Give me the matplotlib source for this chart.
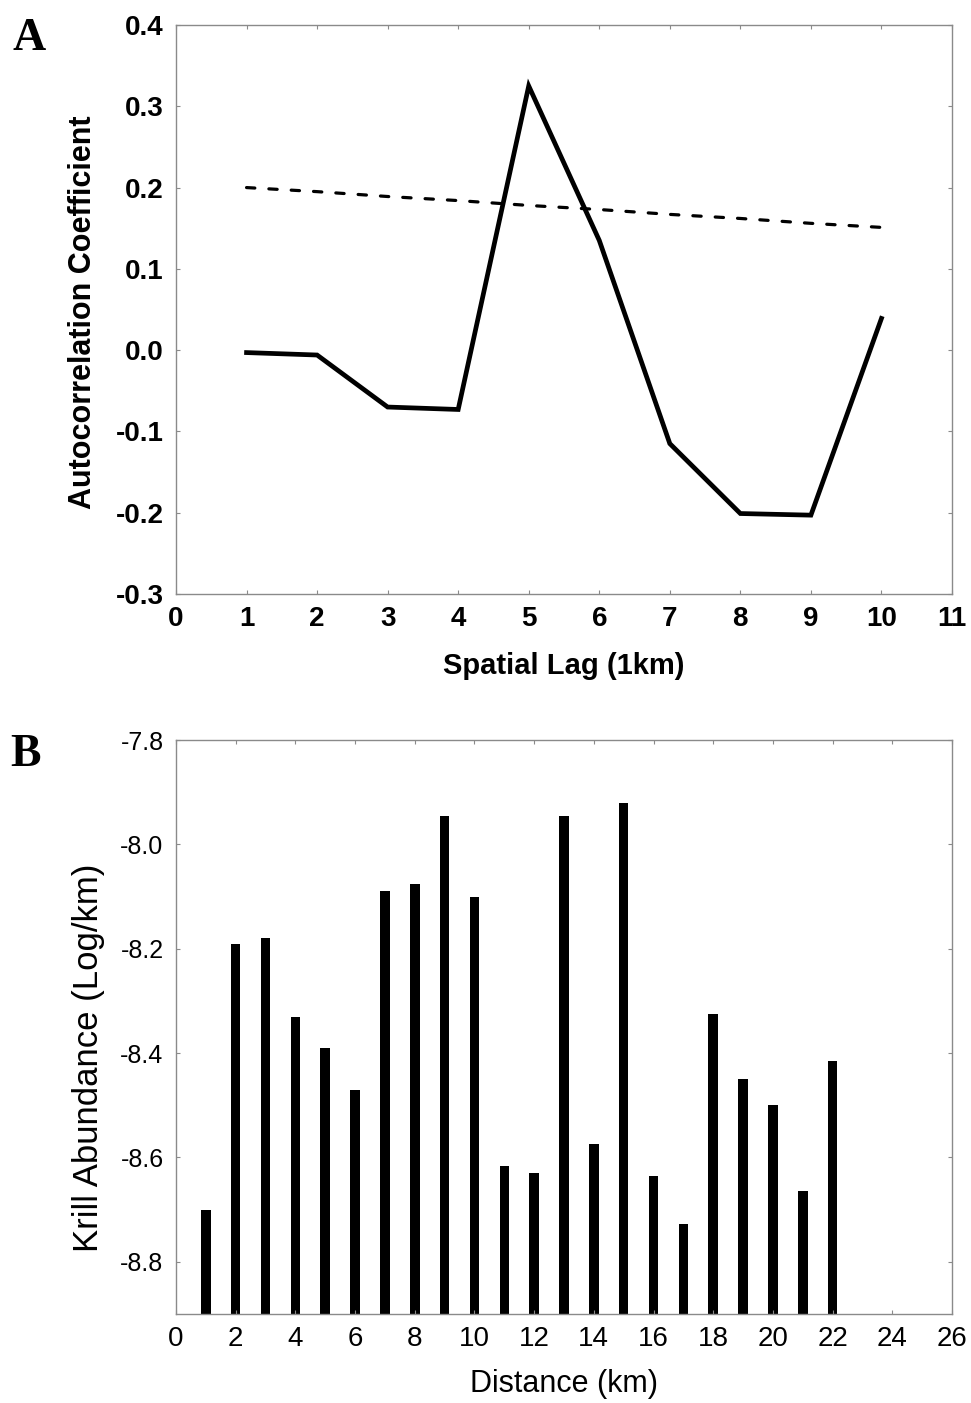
"""
Two-panel figure: (A) spatial autocorrelation of krill abundance,
(B) krill abundance along the transect.
"""
import matplotlib
matplotlib.use("Agg")
import matplotlib.pyplot as plt
import numpy as np

# --- data -------------------------------------------------------------
lag = [1, 2, 3, 4, 5, 6, 7, 8, 9, 10]
autocorr = [-0.003, -0.006, -0.070, -0.073, 0.325, 0.135, -0.115, -0.201, -0.203, 0.039]
conf_limit = [0.200, 0.195, 0.189, 0.184, 0.178, 0.173, 0.167, 0.162, 0.156, 0.151]

distance = list(range(1, 23))
abundance = [-8.70, -8.19, -8.18, -8.33, -8.39, -8.47, -8.09, -8.075, -7.945, -8.10,
             -8.617, -8.629, -7.945, -8.575, -7.92, -8.636, -8.728, -8.325, -8.45,
             -8.50, -8.665, -8.415]

a_xticks = list(range(0, 12))
a_yticks = [-0.3, -0.2, -0.1, 0.0, 0.1, 0.2, 0.3, 0.4]
b_xticks = list(range(0, 27, 2))
b_yticks = [-8.8, -8.6, -8.4, -8.2, -8.0, -7.8]

FRAME = "#8a8a8a"
SANS = ["Liberation Sans", "DejaVu Sans"]
SERIF = ["Liberation Serif", "DejaVu Serif"]


def style_axes(ax):
    for s in ax.spines.values():
        s.set_color(FRAME)
        s.set_linewidth(1.0)
    ax.tick_params(direction="in", length=3, width=0.8, color=FRAME,
                   top=True, right=True, pad=9)


fig = plt.figure(figsize=(9.71, 14.03), dpi=100)

# --- panel A ----------------------------------------------------------
ax1 = fig.add_axes([176 / 971, 1 - 594 / 1403, 776 / 971, 569 / 1403])
ax1.plot(lag, conf_limit, color="black", lw=2.3, dashes=(2.6, 4.4),
         dash_capstyle="round")
ax1.plot(lag, autocorr, color="black", lw=3.4, solid_joinstyle="miter")
ax1.set_xlim(0, 11)
ax1.set_ylim(-0.3, 0.4)
ax1.set_xticks(a_xticks)
ax1.set_yticks(a_yticks)
ax1.set_xticklabels([str(t) for t in a_xticks], family=SANS, weight="bold", fontsize=20)
ax1.set_yticklabels([f"{t:.1f}" for t in a_yticks], family=SANS, weight="bold", fontsize=20)
ax1.set_xlabel("Spatial Lag (1km)", family=SANS, weight="bold", fontsize=21, labelpad=14)
ax1.set_ylabel("Autocorrelation Coefficient", family=SANS, weight="bold", fontsize=22)
ax1.yaxis.set_label_coords(-78 / 776, 0.495)
style_axes(ax1)

# --- panel B ----------------------------------------------------------
ax2 = fig.add_axes([176 / 971, 1 - 1314 / 1403, 776 / 971, 574 / 1403])
base = -8.9
ax2.bar(distance, np.array(abundance) - base, bottom=base, width=0.32,
        color="black", edgecolor="black", linewidth=0)
ax2.set_xlim(0, 26)
ax2.set_ylim(base, -7.8)
ax2.set_xticks(b_xticks)
ax2.set_yticks(b_yticks)
ax2.set_xticklabels([str(t) for t in b_xticks], family=SANS, fontsize=20)
ax2.set_yticklabels([f"{t:.1f}" for t in b_yticks], family=SANS, fontsize=18)
ax2.set_xlabel("Distance (km)", family=SANS, fontsize=22, labelpad=12)
ax2.set_ylabel("Krill Abundance (Log/km)", family=SANS, fontsize=25)
ax2.yaxis.set_label_coords(-71 / 776, 0.446)
style_axes(ax2)

# panel letters
fig.text(12 / 971, 1 - 50 / 1403, "A", family=SERIF,
         weight="bold", fontsize=33, ha="left", va="baseline")
fig.text(10 / 971, 1 - 766 / 1403, "B", family=SERIF,
         weight="bold", fontsize=33, ha="left", va="baseline")

fig.savefig("out.png", dpi=100)
